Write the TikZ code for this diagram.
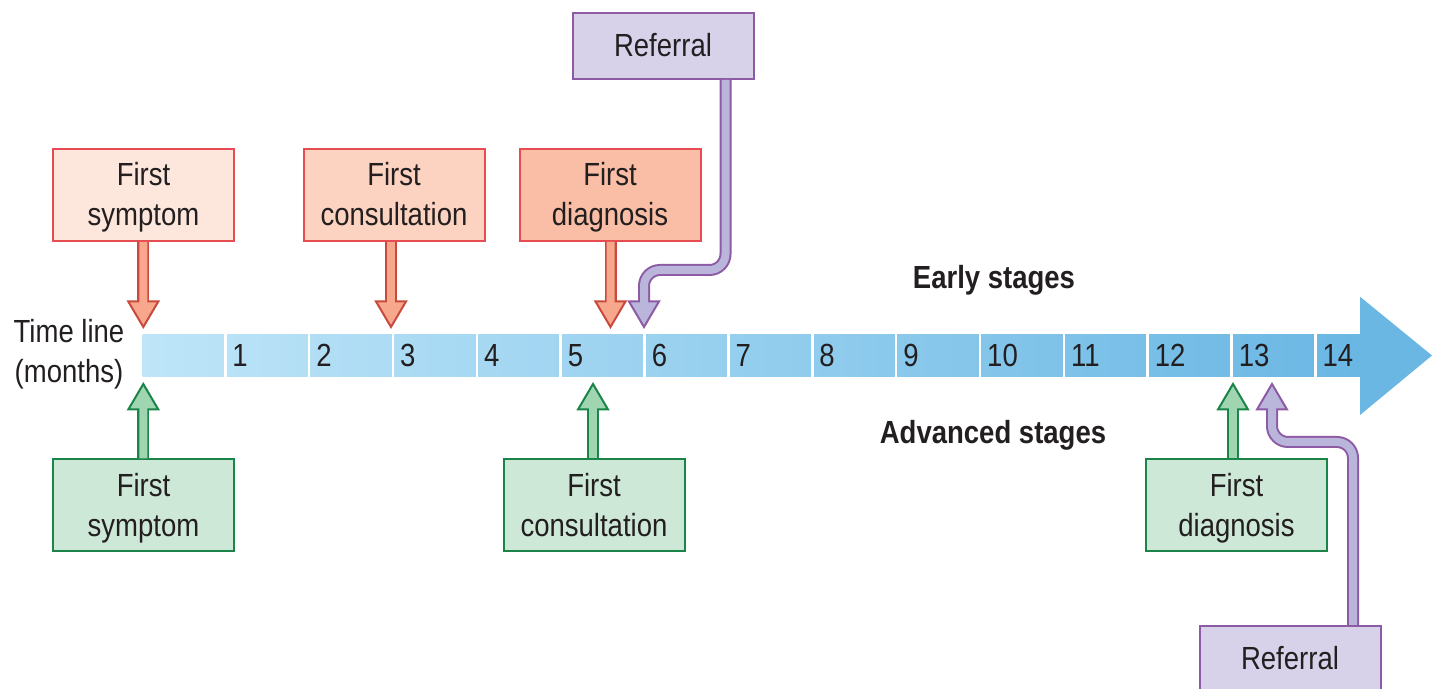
\documentclass[tikz,border=0pt]{standalone}
\usepackage{fontspec}
\setmainfont{Liberation Sans}[FakeStretch=0.86]
\usetikzlibrary{calc}
\definecolor{redBox}{HTML}{E64C51}
\definecolor{redArrB}{HTML}{C94A3C}
\definecolor{redArrF}{HTML}{F7A88C}
\definecolor{rfA}{HTML}{FDE6DC}
\definecolor{rfB}{HTML}{FCD2C0}
\definecolor{rfC}{HTML}{F9BEA5}
\definecolor{grB}{HTML}{1B8448}
\definecolor{grF}{HTML}{CDE8D7}
\definecolor{grA}{HTML}{9FD5B0}
\definecolor{puB}{HTML}{8C5BA4}
\definecolor{puF}{HTML}{D7D2E9}
\definecolor{puA}{HTML}{B9B5DB}
\definecolor{tlL}{HTML}{BEE5F8}
\definecolor{tlR}{HTML}{6AB7E4}
\definecolor{ink}{HTML}{231F20}
\newcommand\boxfont{\fontsize{16}{20}\selectfont}
\newcommand\twol[2]{\rule{0pt}{14pt}#1\\#2\rule[-3pt]{0pt}{3pt}}
\newcommand\onel[1]{\rule{0pt}{14pt}#1\rule[-3pt]{0pt}{3pt}}
\tikzset{
  evbox/.style={draw=#1, line width=1pt, minimum width=90.5pt, minimum height=46pt,
    align=center, inner sep=0pt, font=\boxfont, text=ink},
  refbox/.style={evbox=puB, fill=puF, minimum height=33pt},
  numlbl/.style={anchor=base west, inner sep=0pt, font=\boxfont, text=ink},
  stagelbl/.style={font=\boxfont\bfseries, text=ink, inner sep=0pt},
}
% #1 border, #2 fill, #3 path up to (not incl.) base, #4 base coord, #5 tip coord
\newcommand\hollowarrow[5]{%
  \draw[line width=6pt, draw=#1, rounded corners=8pt] #3 -- (#4);
  \filldraw[fill=#2, draw=#1, line width=1pt, line join=miter]
    ($(#4)+(-15,0)$) -- (#5) -- ($(#4)+(15,0)$) -- cycle;
  \draw[line width=4pt, draw=#2, rounded corners=8pt] #3 -- ($(#4)!0.1!(#5)$);
}
\begin{document}
\begin{tikzpicture}[x=0.5pt,y=-0.5pt]
\useasboundingbox (0,0) rectangle (1432,689);

% time line bar
\shade[left color=tlL, right color=tlR] (142.7,334.3) rectangle (1361,376.7);
\fill[tlR] (1360,296.7) -- (1432,355.5) -- (1360,415) -- cycle;
\foreach \k in {1,...,14}{
  \fill[white] ({142.7+83.86*\k-2.6},333) rectangle ({142.7+83.86*\k},378);
  \node[numlbl] (n\k) at ({142.7+83.86*\k+5.5},367) {\k};
}
\node[font=\boxfont, text=ink, align=center, inner sep=0pt] (tl) at (69,354) {Time line\\(months)};

\node[stagelbl] (early) at (994,280) {Early stages};
\node[stagelbl] (adv) at (993,435) {Advanced stages};

% top boxes
\node[evbox=redBox, fill=rfA] (s1) at (143.5,195) {\twol{First}{symptom}};
\node[evbox=redBox, fill=rfB] (c1) at (394,195) {\twol{First}{consultation}};
\node[evbox=redBox, fill=rfC] (d1) at (610,195) {\twol{First}{diagnosis}};
\node[refbox] (r1) at (663,46) {\onel{Referral}};

% bottom boxes
\node[evbox=grB, fill=grF] (s2) at (143.5,505.5) {\twol{First}{symptom}};
\node[evbox=grB, fill=grF] (c2) at (594,505.5) {\twol{First}{consultation}};
\node[evbox=grB, fill=grF] (d2) at (1236.5,505.5) {\twol{First}{diagnosis}};
\node[refbox] (r2) at (1290,659) {\onel{Referral}};

% arrow coordinates
\coordinate (s1b) at (143.3,301.5); \coordinate (s1t) at (143.3,327);
\coordinate (c1b) at (391,301.5);   \coordinate (c1t) at (391,327);
\coordinate (d1b) at (610.5,301.5); \coordinate (d1t) at (610.5,327);
\coordinate (r1b) at (644,301.5);   \coordinate (r1t) at (644,327);
\coordinate (s2b) at (143.3,409.5); \coordinate (s2t) at (143.3,384);
\coordinate (c2b) at (593,409.5);   \coordinate (c2t) at (593,384);
\coordinate (d2b) at (1233,409.5);  \coordinate (d2t) at (1233,384);
\coordinate (r2b) at (1272,409.5);  \coordinate (r2t) at (1272,384);

\hollowarrow{redArrB}{redArrF}{(s1.south -| s1b)}{s1b}{s1t}
\hollowarrow{redArrB}{redArrF}{(c1.south -| c1b)}{c1b}{c1t}
\hollowarrow{redArrB}{redArrF}{(d1.south -| d1b)}{d1b}{d1t}
\hollowarrow{puB}{puA}{(r1.south -| 725.5,0) -- (725.5,270) -- (644,270)}{r1b}{r1t}
\hollowarrow{grB}{grA}{(s2.north -| s2b)}{s2b}{s2t}
\hollowarrow{grB}{grA}{(c2.north -| c2b)}{c2b}{c2t}
\hollowarrow{grB}{grA}{(d2.north -| d2b)}{d2b}{d2t}
\hollowarrow{puB}{puA}{(r2.north -| 1353,0) -- (1353,442) -- (1272,442)}{r2b}{r2t}
\end{tikzpicture}
\end{document}
